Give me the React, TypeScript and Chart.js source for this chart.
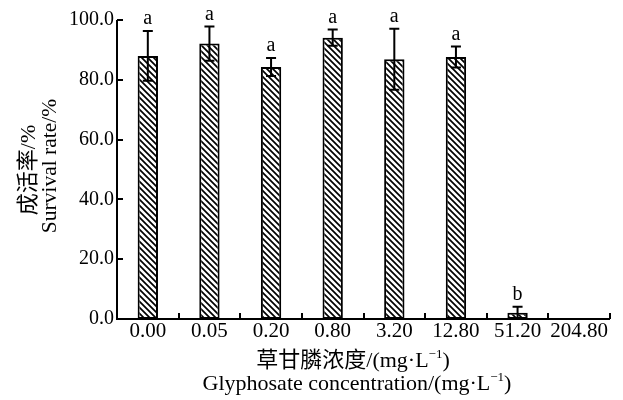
import React, { useEffect, useRef } from "react";
import { Chart, registerables } from "chart.js";

Chart.register(...registerables);

const categories = ["0.00", "0.05", "0.20", "0.80", "3.20", "12.80", "51.20", "204.80"];
const survival = [88.0, 92.1, 84.3, 94.1, 86.9, 87.6, 2.1, 0];
const errors = [8.3, 5.7, 3.0, 2.7, 10.2, 3.5, 2.0, 0];
const letters = ["a", "a", "a", "a", "a", "a", "b", ""];
const yTicks = [0, 20, 40, 60, 80, 100];

const yTitleCN = "成活率";
const yTitleEN = "Survival rate/%";
const xTitleCN = "草甘膦浓度";
const xTitleEN = "Glyphosate concentration";
const unitText = "/(mg·L";
const supText = "−1";

const SERIF = "'Liberation Serif', 'Times New Roman', serif";
const CJK = "'Noto Sans CJK SC', sans-serif";

type Seg = { t: string; font: string; dy: number };

function drawSegs(ctx: CanvasRenderingContext2D, segs: Seg[], cx: number, cy: number, rotate: boolean) {
  ctx.save();
  ctx.translate(cx, cy);
  if (rotate) ctx.rotate(-Math.PI / 2);
  ctx.textAlign = "left";
  ctx.textBaseline = "alphabetic";
  let total = 0;
  const widths = segs.map((s) => {
    ctx.font = s.font;
    const w = ctx.measureText(s.t).width;
    total += w;
    return w;
  });
  let x = -total / 2;
  segs.forEach((s, i) => {
    ctx.font = s.font;
    ctx.fillText(s.t, x, s.dy);
    x += widths[i];
  });
  ctx.restore();
}

function makePattern(ctx: CanvasRenderingContext2D) {
  const s = 6;
  const pc = document.createElement("canvas");
  pc.width = s;
  pc.height = s;
  const p = pc.getContext("2d")!;
  p.fillStyle = "#fff";
  p.fillRect(0, 0, s, s);
  p.strokeStyle = "#000";
  p.lineWidth = 1.7;
  p.beginPath();
  p.moveTo(-2, -2);
  p.lineTo(s + 2, s + 2);
  p.moveTo(-2, s - 2);
  p.lineTo(2, s + 2);
  p.moveTo(s - 2, -2);
  p.lineTo(s + 2, 2);
  p.stroke();
  return ctx.createPattern(pc, "repeat")!;
}

const customPlugin = {
  id: "custom",
  afterDatasetsDraw(chart: any) {
    const ctx = chart.ctx as CanvasRenderingContext2D;
    const y = chart.scales.y;
    const meta = chart.getDatasetMeta(0);
    ctx.save();
    ctx.strokeStyle = "#000";
    ctx.fillStyle = "#000";
    ctx.lineWidth = 2;
    meta.data.forEach((bar: any, i: number) => {
      const v = survival[i];
      const e = errors[i];
      const x = bar.x;
      if (e > 0) {
        const yt = y.getPixelForValue(v + e);
        const yb = y.getPixelForValue(Math.max(v - e, 0));
        ctx.beginPath();
        ctx.moveTo(x, yt);
        ctx.lineTo(x, yb);
        ctx.moveTo(x - 5, yt);
        ctx.lineTo(x + 5, yt);
        ctx.moveTo(x - 5, yb);
        ctx.lineTo(x + 5, yb);
        ctx.stroke();
      }
      if (letters[i]) {
        const yt = y.getPixelForValue(v + e);
        ctx.font = `20px ${SERIF}`;
        ctx.textAlign = "center";
        ctx.textBaseline = "alphabetic";
        ctx.fillText(letters[i], x, yt - 7);
      }
    });
    ctx.restore();
  },
  afterDraw(chart: any) {
    const ctx = chart.ctx as CanvasRenderingContext2D;
    const xs = chart.scales.x;
    const ys = chart.scales.y;
    const area = chart.chartArea;
    ctx.save();
    ctx.strokeStyle = "#000";
    ctx.lineWidth = 2;
    ctx.beginPath();
    ctx.moveTo(area.left, area.top);
    ctx.lineTo(area.left, area.bottom);
    ctx.lineTo(area.right, area.bottom);
    ctx.stroke();
    ctx.beginPath();
    yTicks.forEach((t) => {
      const py = Math.round(ys.getPixelForValue(t));
      ctx.moveTo(area.left, py);
      ctx.lineTo(area.left + 6, py);
    });
    for (let i = 1; i <= categories.length; i++) {
      const px = Math.round(xs.getPixelForValue(i - 0.5));
      ctx.moveTo(px, area.bottom);
      ctx.lineTo(px, area.bottom - 6);
    }
    ctx.stroke();

    ctx.fillStyle = "#000";
    const serif22 = `22px ${SERIF}`;
    const cjk22 = `22px ${CJK}`;
    const sup = `13px ${SERIF}`;
    drawSegs(ctx, [{ t: yTitleCN, font: cjk22, dy: 0 }, { t: "/%", font: serif22, dy: 0 }], 35, 170, true);
    drawSegs(ctx, [{ t: yTitleEN, font: `21.5px ${SERIF}`, dy: 0 }], 56, 166, true);
    drawSegs(
      ctx,
      [
        { t: xTitleCN, font: cjk22, dy: 0 },
        { t: unitText, font: serif22, dy: 0 },
        { t: supText, font: sup, dy: -9 },
        { t: ")", font: serif22, dy: 0 },
      ],
      353,
      367,
      false
    );
    drawSegs(
      ctx,
      [
        { t: xTitleEN, font: serif22, dy: 0 },
        { t: unitText, font: serif22, dy: 0 },
        { t: supText, font: sup, dy: -9 },
        { t: ")", font: serif22, dy: 0 },
      ],
      357,
      390,
      false
    );
    ctx.restore();
  },
};

export default function App() {
  const ref = useRef<HTMLCanvasElement | null>(null);
  useEffect(() => {
    const canvas = ref.current!;
    const ctx = canvas.getContext("2d")!;
    const pattern = makePattern(ctx);
    const chart = new Chart(canvas, {
      type: "bar",
      data: {
        labels: categories,
        datasets: [
          {
            data: survival,
            backgroundColor: pattern as any,
            borderColor: "#000",
            borderWidth: 2,
            borderSkipped: false,
            categoryPercentage: 1,
            barPercentage: 0.33,
          },
        ],
      },
      options: {
        responsive: false,
        animation: false,
        events: [],
        layout: { padding: { top: 20, right: 13, left: 0, bottom: 0 } },
        plugins: { legend: { display: false }, tooltip: { enabled: false }, title: { display: false } },
        scales: {
          x: {
            grid: { display: false, tickLength: 0, drawTicks: false },
            border: { display: false },
            ticks: { color: "#000", font: { family: SERIF, size: 21 }, padding: 0, maxRotation: 0, autoSkip: false },
            afterFit: (s: any) => {
              s.height = 81;
            },
          },
          y: {
            min: 0,
            max: 100,
            grid: { display: false, tickLength: 0, drawTicks: false },
            border: { display: false },
            ticks: {
              stepSize: 20,
              color: "#000",
              font: { family: SERIF, size: 20 },
              padding: 3,
              callback: (v: any) => Number(v).toFixed(1),
            },
            afterFit: (s: any) => {
              s.width = 117;
            },
          },
        },
      },
      plugins: [customPlugin],
    });
    return () => chart.destroy();
  }, []);
  return (
    <div style={{ position: "fixed", left: 0, top: 0, width: 623, height: 400, background: "#fff" }}>
      <canvas ref={ref} width={623} height={400} style={{ display: "block" }} />
    </div>
  );
}
